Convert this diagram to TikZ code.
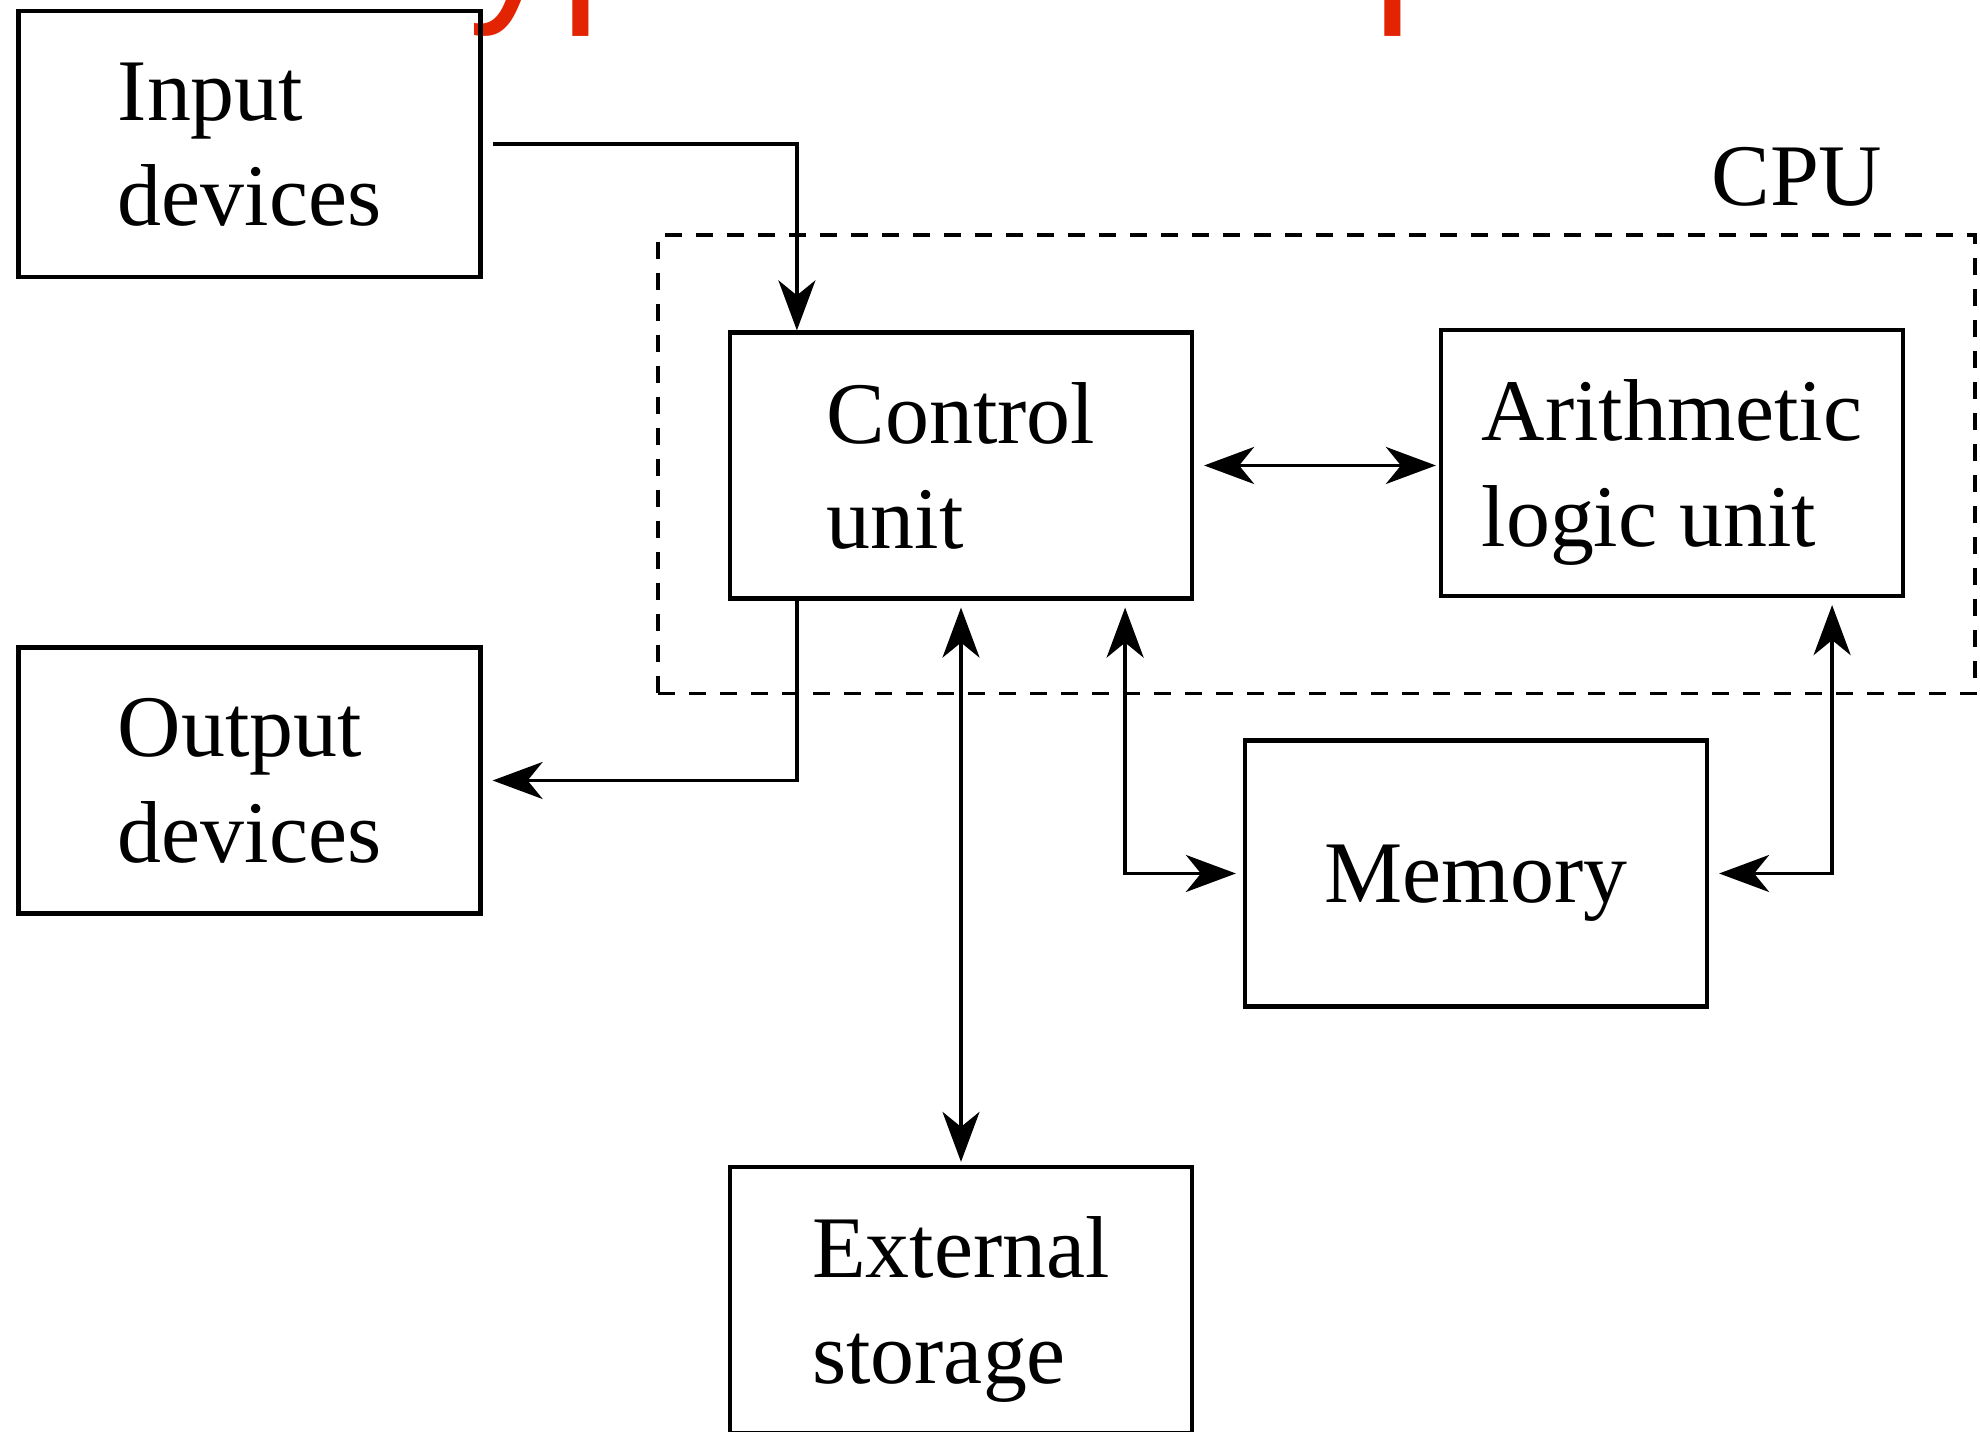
\documentclass[tikz,border=0pt]{standalone}
\usepackage{fontspec}
\setmainfont{Liberation Serif}
\newfontfamily\titlefont{Liberation Sans}
\usetikzlibrary{arrows.meta,fit}

\definecolor{titlered}{RGB}{226,36,2}

\tikzset{
	blockbox/.style={draw, line width=1.2pt, minimum width=4.62cm, minimum height=2.66cm, align=left, text depth=0pt, font=\fontsize{25}{30}\selectfont},
	cpubox/.style={draw, line width=0.95pt, dash pattern=on 1.7mm off 1.4mm, inner xsep=7mm, inner ysep=9.3mm},
	link/.style={line width=1pt},
}

\begin{document}
\begin{tikzpicture}[>={Stealth[length=5mm, width=3.7mm, inset=1.5mm]}]
	
	\useasboundingbox (0,0) rectangle (19.8,14.32);
	
	\node [anchor=base west, text=titlered, font=\titlefont\fontsize{52}{60}\selectfont] (title) at (1.82,14.33) {A Typical Computer};
	
	\node [blockbox] (input) at (2.495,12.88) {Input\\devices};
	\node [blockbox] (output) at (2.495,6.515) {Output\\devices};
	\node [blockbox] (control) at (9.61,9.665) {Control\\unit};
	\node [blockbox] (alu) at (16.72,9.69) {Arithmetic\\logic unit};
	\node [blockbox] (memory) at (14.76,5.585) {Memory};
	\node [blockbox] (storage) at (9.61,1.32) {External\\storage};
	
	\node [cpubox, fit=(control) (alu)] (cpu) {};
	\node [anchor=base east, font=\fontsize{25}{30}\selectfont] (cpulabel) at ([xshift=-8.2mm, yshift=2.8mm]cpu.north east) {CPU};
	
	\draw [link, ->] ([xshift=1mm]input.east) -| ([xshift=6.9mm]control.north west);
	\draw [link, ->] ([xshift=6.9mm]control.south west) |- ([xshift=1mm]output.east);
	\draw [link, <->] ([xshift=1mm]control.east) -- ([xshift=-0.3mm]control.east -| alu.west);
	\draw [link, <->] ([yshift=-0.7mm]control.south) -- ([yshift=0.3mm]storage.north);
	\draw [link, <->] ([xshift=-6.9mm, yshift=-0.7mm]control.south east) |- ([xshift=-0.7mm]memory.west);
	\draw [link, <->] ([xshift=-7.3mm, yshift=-0.7mm]alu.south east) |- ([xshift=1mm]memory.east);
	
\end{tikzpicture}
\end{document}
